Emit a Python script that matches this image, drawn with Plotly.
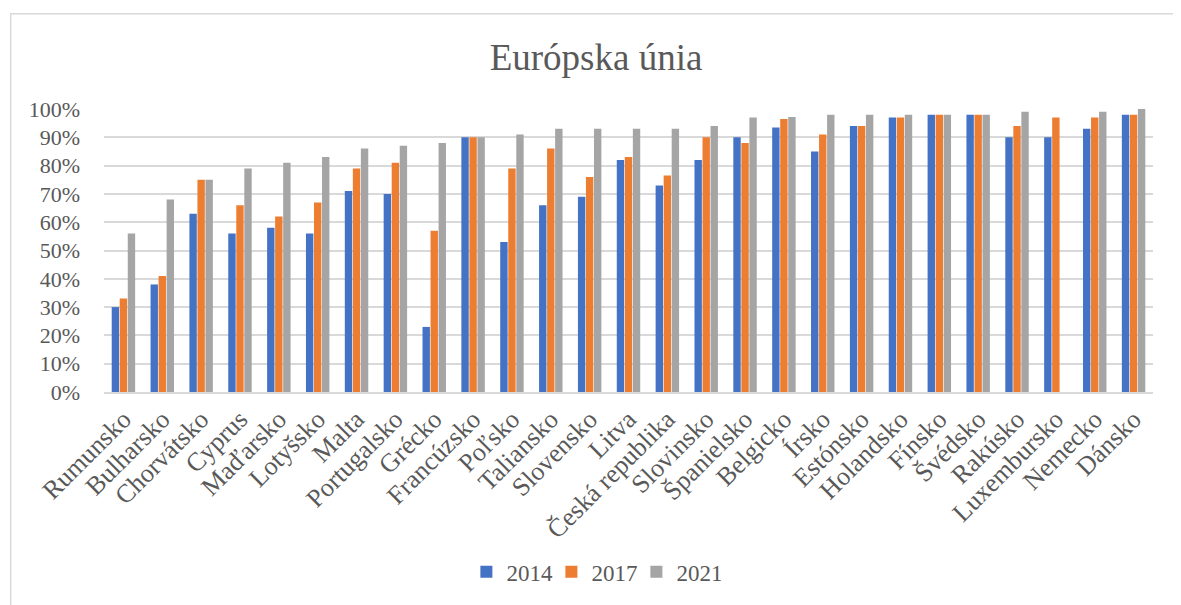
import plotly.graph_objects as go

countries = ["Rumunsko", "Bulharsko", "Chorvátsko", "Cyprus", "Maďarsko", "Lotyšsko", "Malta",
             "Portugalsko", "Grécko", "Francúzsko", "Poľsko", "Taliansko", "Slovensko", "Litva",
             "Česká republika", "Slovinsko", "Španielsko", "Belgicko", "Írsko", "Estónsko",
             "Holandsko", "Fínsko", "Švédsko", "Rakúsko", "Luxembursko", "Nemecko", "Dánsko"]

v2014 = [0.30, 0.38, 0.63, 0.56, 0.58, 0.56, 0.71, 0.70, 0.23, 0.90, 0.53, 0.66, 0.69, 0.82,
         0.73, 0.82, 0.90, 0.935, 0.85, 0.94, 0.97, 0.98, 0.98, 0.90, 0.90, 0.93, 0.98]
v2017 = [0.33, 0.41, 0.75, 0.66, 0.62, 0.67, 0.79, 0.81, 0.57, 0.90, 0.79, 0.86, 0.76, 0.83,
         0.765, 0.90, 0.88, 0.965, 0.91, 0.94, 0.97, 0.98, 0.98, 0.94, 0.97, 0.97, 0.98]
v2021 = [0.56, 0.68, 0.75, 0.79, 0.81, 0.83, 0.86, 0.87, 0.88, 0.90, 0.91, 0.93, 0.93, 0.93,
         0.93, 0.94, 0.97, 0.972, 0.98, 0.98, 0.98, 0.98, 0.98, 0.99, None, 0.99, 1.00]

series = [("2014", v2014, "#4472C4"), ("2017", v2017, "#ED7D31"), ("2021", v2021, "#A5A5A5")]

FONT = "Liberation Serif"
TXT = "#595959"
GRID = "#D9D9D9"

# page body has an 8px default margin -> figure drawn from (8, 8)
W, H = 1173, 597
L, T, R, B = 96, 101, 28, 211
PW, PH = W - L - R, H - T - B

fig = go.Figure()
for name, vals, col in series:
    fig.add_trace(go.Bar(x=countries, y=vals, name=name, marker=dict(color=col, line=dict(width=0))))

fig.update_layout(
    width=W, height=H,
    paper_bgcolor="white", plot_bgcolor="white",
    barmode="group", bargap=0.38, bargroupgap=0.08,
    margin=dict(l=L, r=R, t=T, b=B),
    font=dict(family=FONT, color=TXT, size=22),
    title=dict(text="Európska únia", x=588 / W, xref="container", xanchor="center",
               y=1 - 49 / H, yref="container", yanchor="middle",
               font=dict(family=FONT, size=37, color=TXT)),
    legend=dict(orientation="h", x=0.467, xanchor="center", y=(PH - (567 - T)) / PH, yanchor="middle",
                font=dict(family=FONT, size=23, color=TXT), itemwidth=30,
                entrywidth=40, entrywidthmode="pixels", traceorder="normal"),
    showlegend=True,
)
fig.update_xaxes(tickangle=-45, showline=True, linecolor=GRID, linewidth=1.5, ticks="",
                 tickfont=dict(family=FONT, size=26, color=TXT), showgrid=False)
fig.update_yaxes(range=[0, 1.0], dtick=0.1, tickformat=".0%", showgrid=True, gridcolor=GRID,
                 gridwidth=1.5, zeroline=False, ticks="", ticklabelstandoff=23,
                 tickfont=dict(family=FONT, size=22, color=TXT))

# chart frame (left and top edges visible)
fig.add_shape(type="rect", xref="paper", yref="paper",
              x0=(2.7 - L) / PW, x1=(W + 10 - L) / PW,
              y0=(PH - (H + 10 - T)) / PH, y1=(PH - (5 - T)) / PH,
              line=dict(color=GRID, width=1.5), fillcolor="rgba(0,0,0,0)", layer="below")

fig.write_html("out.html")
